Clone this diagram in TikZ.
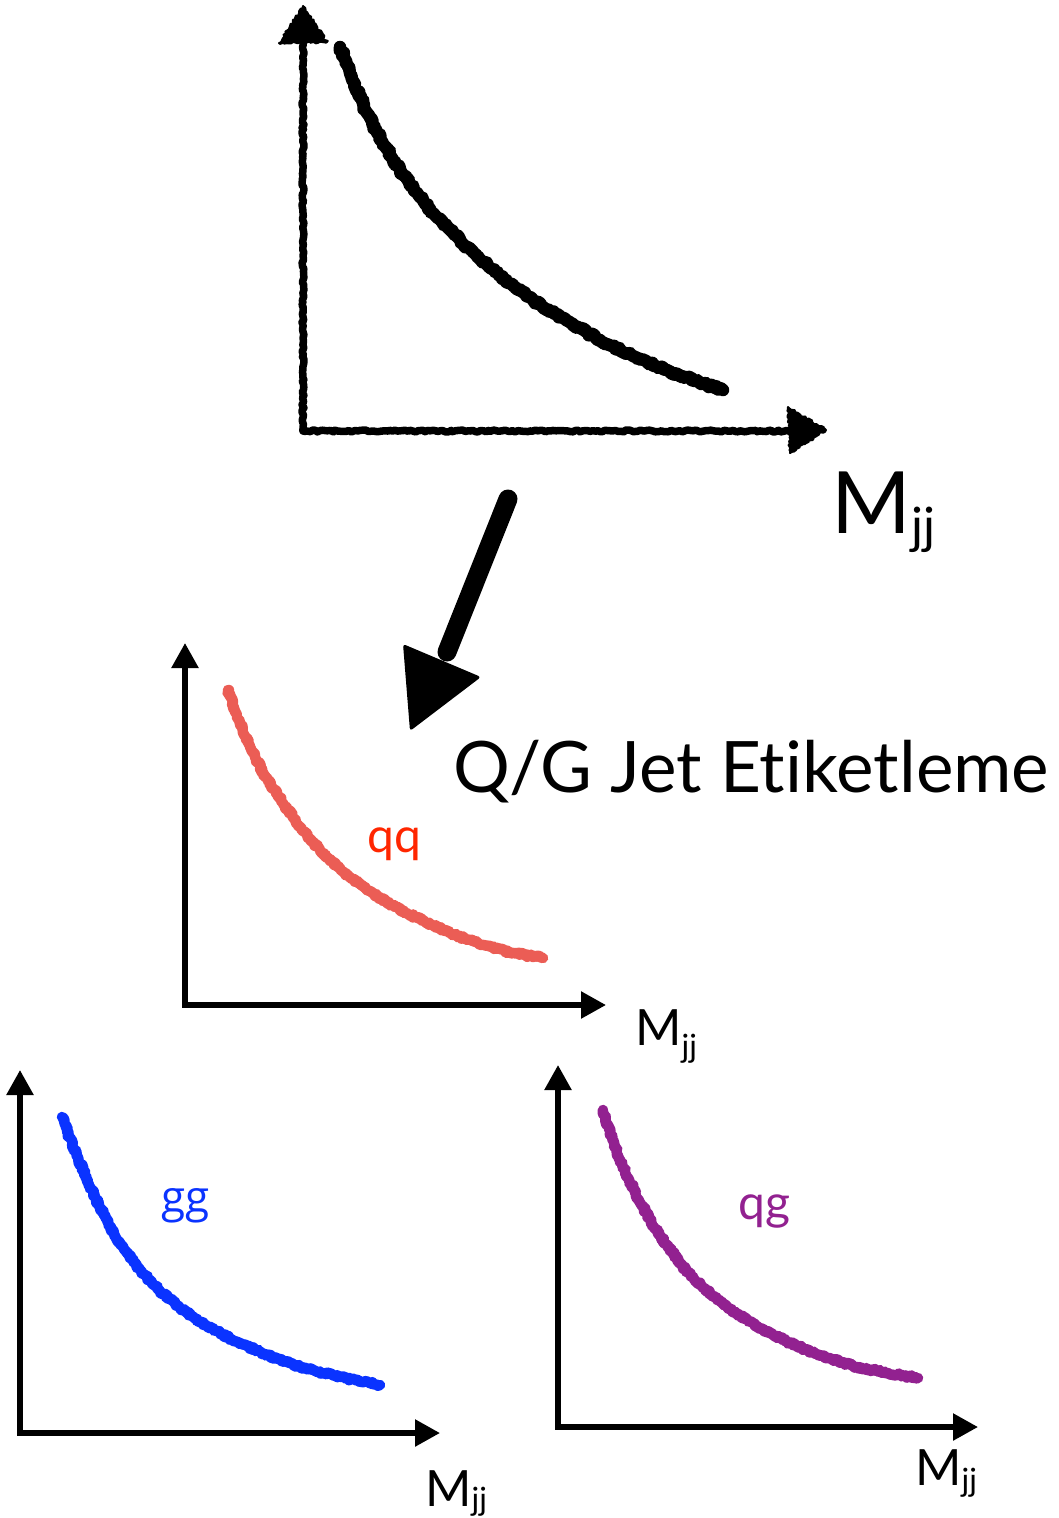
\documentclass[tikz,border=0pt]{standalone}
\usepackage{fontspec}
\setmainfont{Lato}[Ligatures=NoCommon]
\newfontfamily\ggfont{Open Sans}
\usetikzlibrary{arrows.meta,decorations.pathmorphing}
\newcommand{\MjjLabel}[3]{\fontsize{#1}{#1}\selectfont M\raisebox{-#3}{\fontsize{#2}{#2}\selectfont jj}}
\definecolor{qqcurve}{HTML}{EB5D55}
\definecolor{qqtext}{HTML}{FF2600}
\definecolor{ggblue}{HTML}{0A33FF}
\definecolor{qgpurple}{HTML}{922190}
\pgfmathsetseed{7}
\begin{document}
\begin{tikzpicture}[x=1pt,y=-1pt,
  axis/.style={line width=5.5pt, {Triangle[length=25pt,width=26pt]}-{Triangle[length=25pt,width=26pt]}},
  sketchline/.style={line width=7.5pt, line cap=round, line join=round, decorate,
     decoration={random steps, segment length=2.5pt, amplitude=1pt}},
  sketchhead/.style={fill=black, draw=black, line width=2pt, line join=round, decorate,
     decoration={random steps, segment length=2pt, amplitude=1.3pt}},
  curvebase/.style={line width=9pt, line cap=round},
  curverough/.style={line width=10.5pt, line cap=round, line join=round, decorate,
     decoration={random steps, segment length=1.5pt, amplitude=1.4pt}},
  lbl/.style={inner sep=0pt, anchor=base west},
]
\useasboundingbox (0,0) rectangle (1058,1518);

% ---------- top sketched plot ----------
\coordinate (tO) at (303,431);
\coordinate (tY) at (303,42);
\coordinate (tX) at (789,431);
\draw[sketchline] (tY) -- (tO) -- (tX);
\path[sketchhead] (303,6) -- (327,42) -- (279,43) -- cycle;
\path[sketchhead] (826,430) -- (790,453) -- (788,407) -- cycle;
\draw[line width=11pt, line cap=round] plot[smooth, tension=0.6] coordinates
  {(340,47) (367,113) (400,170) (433,213) (467,247) (500,276) (533,300) (567,321) (600,340) (633,356) (667,370) (723,390)};
\draw[curverough, line width=12.5pt, decoration={random steps, segment length=2pt, amplitude=1.7pt}]
  (340,47) -- (353,81) -- (367,113) -- (383,143) -- (400,170) -- (416,192) -- (433,213) -- (467,247) -- (500,276) -- (533,300) -- (567,321) -- (600,340) -- (633,356) -- (667,370) -- (695,381) -- (723,390);
\node[lbl] (topM) at (831,533) {\MjjLabel{86}{50}{10pt}};

% ---------- big arrow ----------
\coordinate (bigA) at (508,499);
\coordinate (bigB) at (447,652);
\draw[line width=19pt, line cap=round] (bigA) -- (bigB);
\fill[rounded corners=3pt] (403,644) -- (481,677) -- (410,731) -- cycle;
\node[lbl] (title) at (453,792) {\fontsize{71}{71}\selectfont Q/G Jet Etiketleme};

% ---------- qq plot ----------
\coordinate (mO) at (185,1005);
\coordinate (mY) at (185,643);
\coordinate (mX) at (606,1005);
\draw[axis] (mY) -- (mO) -- (mX);
\draw[curvebase, qqcurve] plot[smooth, tension=0.6] coordinates
  {(228,690) (250,747) (283,803) (320,850) (367,890) (417,918) (483,945) (543,958)};
\draw[curverough, qqcurve]
  (228,690) -- (238,719) -- (250,747) -- (265,776) -- (283,803) -- (301,828) -- (320,850) -- (342,871) -- (367,890) -- (392,905) -- (417,918) -- (450,933) -- (483,945) -- (513,953) -- (543,958);
\node[lbl, text=qqtext] (qq) at (367,852) {\fontsize{48}{48}\selectfont qq};
\node[lbl] (midM) at (635,1045) {\MjjLabel{50}{32}{12pt}};

% ---------- gg plot ----------
\coordinate (lO) at (20,1433);
\coordinate (lY) at (20,1070);
\coordinate (lX) at (440,1433);
\draw[axis] (lY) -- (lO) -- (lX);
\draw[curvebase, ggblue] plot[smooth, tension=0.6] coordinates
  {(62,1117) (83,1170) (110,1227) (140,1270) (183,1310) (233,1340) (300,1367) (380,1385)};
\draw[curverough, ggblue]
  (62,1117) -- (72,1144) -- (83,1170) -- (96,1199) -- (110,1227) -- (124,1249) -- (140,1270) -- (160,1291) -- (183,1310) -- (207,1326) -- (233,1340) -- (265,1354) -- (300,1367) -- (340,1377) -- (380,1385);
\node[lbl, text=ggblue] (gg) at (161,1212) {\ggfont\fontsize{44}{44}\selectfont gg};
\node[lbl] (leftM) at (425,1506) {\MjjLabel{50}{32}{4pt}};

% ---------- qg plot ----------
\coordinate (rO) at (558,1427);
\coordinate (rY) at (558,1065);
\coordinate (rX) at (978,1427);
\draw[axis] (rY) -- (rO) -- (rX);
\draw[curvebase, qgpurple] plot[smooth, tension=0.6] coordinates
  {(603,1110) (623,1167) (650,1220) (683,1267) (727,1307) (790,1343) (857,1367) (918,1378)};
\draw[curverough, qgpurple]
  (603,1110) -- (612,1139) -- (623,1167) -- (636,1194) -- (650,1220) -- (666,1244) -- (683,1267) -- (704,1288) -- (727,1307) -- (757,1326) -- (790,1343) -- (822,1356) -- (857,1367) -- (888,1373) -- (918,1378);
\node[lbl, text=qgpurple] (qg) at (738,1219) {\fontsize{48}{48}\selectfont qg};
\node[lbl] (rightM) at (915,1485) {\MjjLabel{50}{32}{6pt}};
\end{tikzpicture}
\end{document}
